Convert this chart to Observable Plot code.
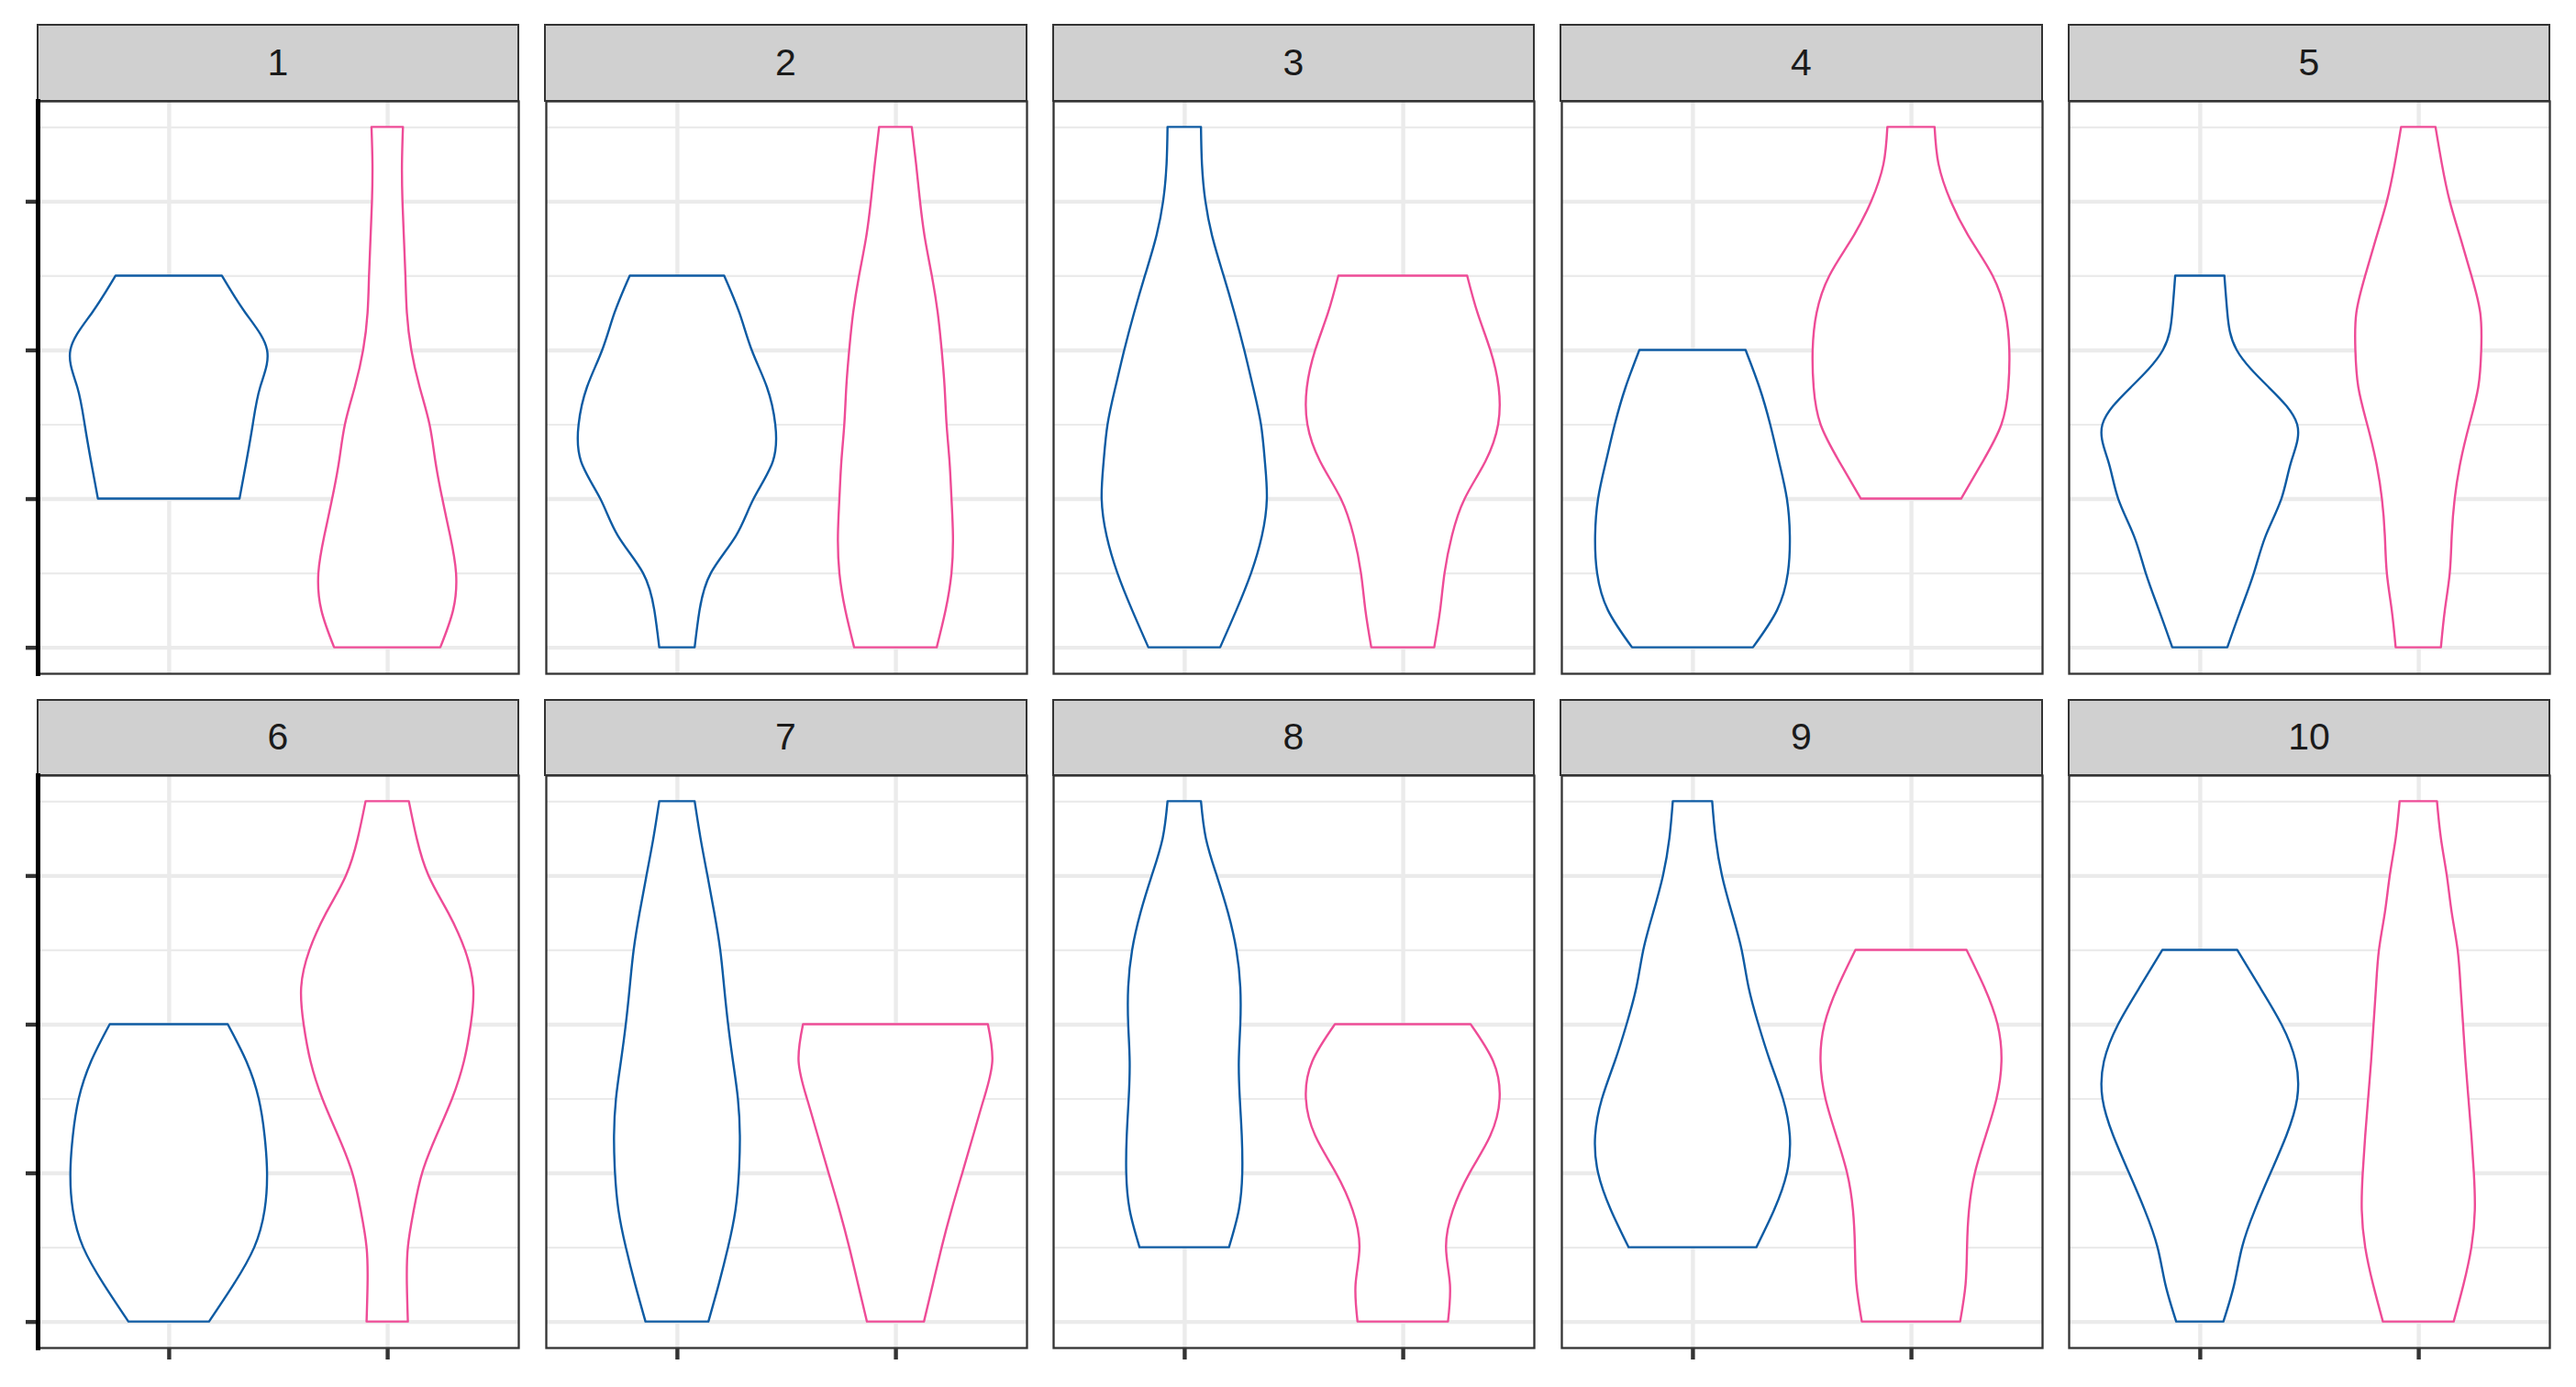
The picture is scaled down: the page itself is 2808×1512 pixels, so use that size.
<!DOCTYPE html>
<html>
<head>
<meta charset="utf-8">
<script src="https://cdn.jsdelivr.net/npm/d3@7"></script>
<script src="https://cdn.jsdelivr.net/npm/@observablehq/plot@0.6"></script>
<style>
html, body { margin: 0; padding: 0; background: #ffffff; }
#chart { position: relative; width: 2808px; height: 1512px; overflow: hidden; font-family: "Liberation Sans", Arial, sans-serif; background: #fff; }
.strip { position: absolute; box-sizing: border-box; background: #D0D0D0; border: 2.3px solid #333333;
  display: flex; align-items: center; justify-content: center; font-size: 41px; color: #1A1A1A; }
.panel { position: absolute; }
</style>
</head>
<body>
<div id="chart"></div>
<script>
// ---------------- data ----------------
const facetLabels = ["1", "2", "3", "4", "5", "6", "7", "8", "9", "10"];
const groups = [1, 2];                       // two groups per facet (x positions 1 and 2)
const groupColors = ["#0E5BA3", "#EE4C97"];  // blue, pink
const yMajorTicks = [0, 2, 4, 6];
const yMinorTicks = [1, 3, 5, 7];
const levelStep = 0.5;                       // widths are read every half level

// violin width (0..1 of max), every half level starting at the min level
const blueMin = [2, 0, 0, 0, 0, 0, 0, 1, 1, 0];
const blueWidths = [
  [0.72, 0.79, 0.855, 0.93, 1.0, 0.78, 0.54],
  [0.18, 0.23, 0.345, 0.60, 0.78, 0.975, 1.0, 0.915, 0.76, 0.635, 0.48],
  [0.365, 0.53, 0.68, 0.79, 0.84, 0.82, 0.78, 0.70, 0.61, 0.51, 0.40, 0.29, 0.215, 0.18, 0.17],
  [0.615, 0.86, 0.97, 0.99, 0.96, 0.88, 0.79, 0.68, 0.54],
  [0.28, 0.415, 0.55, 0.67, 0.83, 0.93, 0.99, 0.70, 0.375, 0.28, 0.25],
  [0.41, 0.66, 0.87, 0.975, 1.0, 0.975, 0.915, 0.79, 0.60],
  [0.32, 0.425, 0.52, 0.595, 0.63, 0.64, 0.62, 0.57, 0.52, 0.48, 0.44, 0.38, 0.31, 0.24, 0.18],
  [0.455, 0.555, 0.59, 0.585, 0.565, 0.555, 0.57, 0.57, 0.53, 0.445, 0.33, 0.22, 0.17],
  [0.65, 0.83, 0.96, 0.99, 0.92, 0.79, 0.67, 0.57, 0.50, 0.40, 0.30, 0.235, 0.20],
  [0.24, 0.35, 0.43, 0.56, 0.72, 0.88, 0.99, 0.975, 0.83, 0.61, 0.38]
];
const pinkMin = [0, 0, 0, 2, 0, 0, 0, 0, 0, 0];
const pinkWidths = [
  [0.54, 0.67, 0.70, 0.64, 0.56, 0.49, 0.43, 0.33, 0.245, 0.20, 0.185, 0.17, 0.155, 0.15, 0.16],
  [0.42, 0.51, 0.57, 0.585, 0.57, 0.55, 0.52, 0.50, 0.47, 0.43, 0.37, 0.30, 0.25, 0.21, 0.166],
  [0.32, 0.38, 0.425, 0.50, 0.63, 0.84, 0.97, 0.975, 0.89, 0.76, 0.655],
  [0.51, 0.73, 0.92, 0.99, 1.0, 0.96, 0.83, 0.60, 0.405, 0.28, 0.24],
  [0.23, 0.27, 0.32, 0.34, 0.37, 0.43, 0.52, 0.61, 0.64, 0.63, 0.54, 0.43, 0.32, 0.24, 0.175],
  [0.21, 0.20, 0.21, 0.27, 0.355, 0.50, 0.66, 0.78, 0.85, 0.875, 0.79, 0.62, 0.42, 0.30, 0.22],
  [0.29, 0.38, 0.47, 0.57, 0.68, 0.79, 0.90, 0.985, 0.94],
  [0.46, 0.48, 0.44, 0.51, 0.68, 0.89, 0.985, 0.92, 0.69],
  [0.50, 0.555, 0.57, 0.59, 0.65, 0.76, 0.87, 0.92, 0.88, 0.745, 0.565],
  [0.36, 0.46, 0.54, 0.575, 0.565, 0.54, 0.51, 0.48, 0.455, 0.43, 0.40, 0.34, 0.29, 0.23, 0.19]
];

// ---------------- layout ----------------
const violinWidth = 0.9;                 // ggplot default violin width
const xDomain = [0.4, 2.6];
const yDomain = [-0.35, 7.35];
const panelW = 524, panelH = 624;
const colLeft = [41, 594.5, 1148, 1701.5, 2255];
const rowTop = [110, 845];
const stripTop = [27, 763];
const ML = 30, MR = 6, MT = 6, MB = 30;

const chart = document.getElementById("chart");

function violinRows(lo, widths, gx) {
  return widths.map((w, k) => ({
    y: lo + k * levelStep,
    x1: gx - (violinWidth / 2) * w,
    x2: gx + (violinWidth / 2) * w
  }));
}

facetLabels.forEach((label, i) => {
  const col = i % 5, row = Math.floor(i / 5);
  const left = colLeft[col], top = rowTop[row];

  // strip header
  const strip = document.createElement("div");
  strip.className = "strip";
  strip.style.left = (left - 1.15) + "px";
  strip.style.top = (stripTop[row] - 1.15) + "px";
  strip.style.width = (panelW + 2.3) + "px";
  strip.style.height = (top - stripTop[row] + 2.3) + "px";
  strip.textContent = label;
  chart.appendChild(strip);

  const blue = violinRows(blueMin[i], blueWidths[i], groups[0]);
  const pink = violinRows(pinkMin[i], pinkWidths[i], groups[1]);

  const showY = col === 0;
  const showX = row === 1;

  const marks = [
    Plot.gridY(yMinorTicks, {stroke: "#EBEBEB", strokeOpacity: 1, strokeWidth: 2.2}),
    Plot.gridY(yMajorTicks, {stroke: "#EBEBEB", strokeOpacity: 1, strokeWidth: 4.4}),
    Plot.gridX(groups, {stroke: "#EBEBEB", strokeOpacity: 1, strokeWidth: 4.4}),
    Plot.areaX(blue, {y: "y", x1: "x1", x2: "x2", curve: "natural", fill: "white",
      stroke: groupColors[0], strokeWidth: 2.4}),
    Plot.areaX(pink, {y: "y", x1: "x1", x2: "x2", curve: "natural", fill: "white",
      stroke: groupColors[1], strokeWidth: 2.4}),
    Plot.frame({stroke: "#333333", strokeWidth: 2.3})
  ];
  if (showY) {
    marks.push(Plot.axisY(yMajorTicks, {anchor: "left", tickSize: 13, fill: "none", tickFormat: () => "",
      label: null, stroke: "#333333", strokeWidth: 4.4}));
    marks.push(Plot.frame({anchor: "left", stroke: "#000000", strokeWidth: 5}));
  }
  if (showX) {
    marks.push(Plot.axisX(groups, {anchor: "bottom", tickSize: 13, fill: "none", tickFormat: () => "",
      label: null, stroke: "#333333", strokeWidth: 4.4}));
  }

  const svg = Plot.plot({
    width: panelW + ML + MR,
    height: panelH + MT + MB,
    marginLeft: ML, marginRight: MR, marginTop: MT, marginBottom: MB,
    x: showX ? {domain: xDomain} : {domain: xDomain, axis: null},
    y: showY ? {domain: yDomain} : {domain: yDomain, axis: null},
    style: {background: "transparent", overflow: "visible"},
    marks
  });
  svg.classList.add("panel");
  svg.style.left = (left - ML) + "px";
  svg.style.top = (top - MT) + "px";
  chart.appendChild(svg);
});
</script>
</body>
</html>
